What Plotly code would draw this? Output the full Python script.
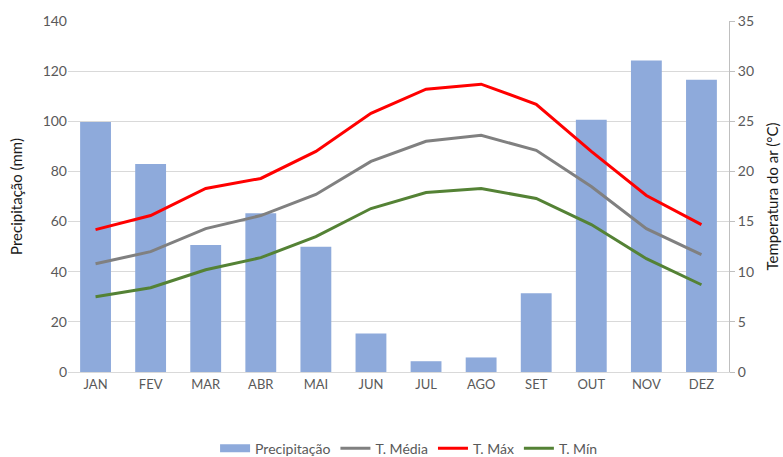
import plotly.graph_objects as go

# Monthly climate normals
months = ["JAN", "FEV", "MAR", "ABR", "MAI", "JUN", "JUL", "AGO", "SET", "OUT", "NOV", "DEZ"]
precipitacao = [99.7, 83.0, 50.7, 63.3, 50.0, 15.4, 4.3, 5.8, 31.4, 100.6, 124.2, 116.6]
t_media = [10.8, 12.0, 14.3, 15.6, 17.7, 21.0, 23.0, 23.6, 22.1, 18.5, 14.3, 11.7]
t_max = [14.2, 15.6, 18.3, 19.3, 22.0, 25.8, 28.2, 28.7, 26.7, 22.0, 17.6, 14.7]
t_min = [7.5, 8.4, 10.2, 11.4, 13.5, 16.3, 17.9, 18.3, 17.3, 14.7, 11.3, 8.7]

font_family = "Lato, 'Open Sans', sans-serif"
text_color = "#595959"
bar_color = "#8eaadb"

fig = go.Figure()
fig.add_trace(go.Bar(x=months, y=precipitacao, name="Precipitação", showlegend=False,
                     marker=dict(color=bar_color, line=dict(width=0)), yaxis="y"))
# wide flat swatch for the bar series in the legend
fig.add_trace(go.Scatter(x=[None], y=[None], name="Precipitação", mode="lines",
                         line=dict(color=bar_color, width=8), yaxis="y"))
fig.add_trace(go.Scatter(x=months, y=t_media, name="T. Média", mode="lines",
                         line=dict(color="#808080", width=3), yaxis="y2"))
fig.add_trace(go.Scatter(x=months, y=t_max, name="T. Máx", mode="lines",
                         line=dict(color="#ff0000", width=3), yaxis="y2"))
fig.add_trace(go.Scatter(x=months, y=t_min, name="T. Mín", mode="lines",
                         line=dict(color="#548235", width=3), yaxis="y2"))

fig.update_layout(
    width=783, height=457,
    margin=dict(l=68, r=54, t=21, b=85, autoexpand=False),
    paper_bgcolor="white", plot_bgcolor="white",
    font=dict(family=font_family, size=13, color=text_color),
    bargap=0.44,
    showlegend=True,
    legend=dict(orientation="h", x=0.516, xanchor="center",
                yref="container", y=0.018, yanchor="middle",
                font=dict(size=14, color=text_color), traceorder="normal"),
    xaxis=dict(showgrid=False, showline=True, linecolor="#d9d9d9", linewidth=1,
               ticks="", tickfont=dict(size=13, color=text_color)),
    yaxis=dict(range=[0, 140], dtick=20, showgrid=True, gridcolor="#d9d9d9",
               gridwidth=1, zeroline=False, showline=False, ticks="",
               tickfont=dict(size=14, color=text_color),
               title=dict(text="Precipitação (mm)", font=dict(size=15, color="#1a1a1a"),
                          standoff=16)),
    yaxis2=dict(range=[0, 35], dtick=5, overlaying="y", side="right", showgrid=False,
                zeroline=False, showline=True, linecolor="#bfbfbf", linewidth=1,
                ticks="outside", ticklen=5, tickcolor="#bfbfbf",
                tickfont=dict(size=14, color=text_color),
                title=dict(text="Temperatura do ar (°C)", font=dict(size=15, color="#1a1a1a"),
                           standoff=14)),
)

fig.write_html("out.html")
